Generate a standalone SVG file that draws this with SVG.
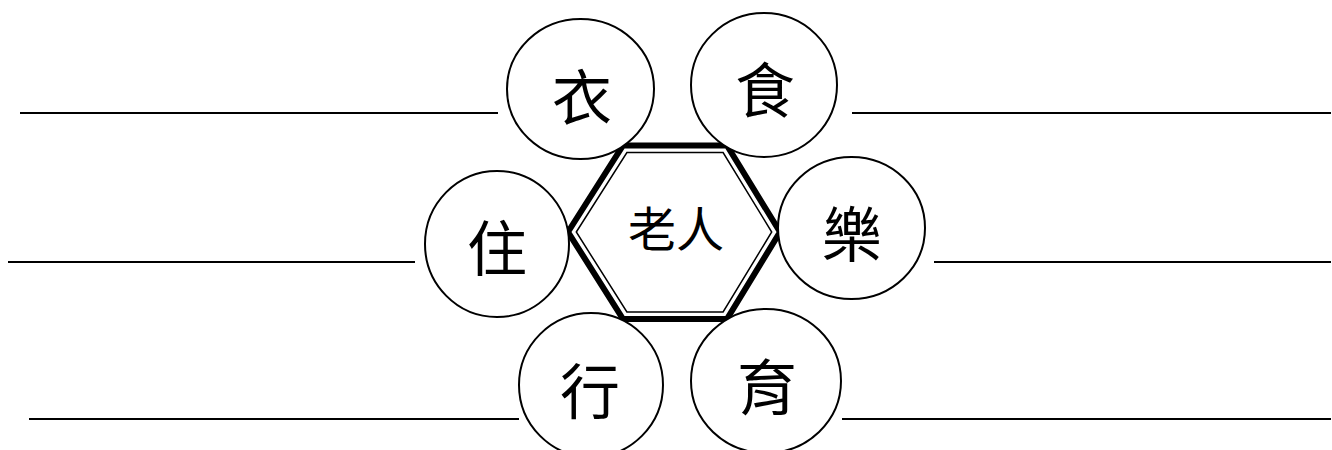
<svg xmlns="http://www.w3.org/2000/svg" width="1332" height="450" viewBox="0 0 1332 450">
<style>
.ln{stroke:#000;stroke-width:2;fill:none}
.c{fill:#fff;stroke:#000;stroke-width:2}
.t{font-family:"Noto Sans CJK TC","Noto Sans CJK SC",sans-serif;font-size:60px;text-anchor:middle;fill:#000}
.tc{font-family:"Noto Sans CJK TC","Noto Sans CJK SC",sans-serif;font-size:48px;text-anchor:middle;fill:#000}
</style>
<rect width="1332" height="450" fill="#fff"/>
<g id="connectors">
<line class="ln" x1="20" y1="113" x2="498" y2="113"/>
<line class="ln" x1="852" y1="113" x2="1331" y2="113"/>
<line class="ln" x1="8" y1="262" x2="415" y2="262"/>
<line class="ln" x1="934" y1="262" x2="1331" y2="262"/>
<line class="ln" x1="29" y1="419" x2="519" y2="419"/>
<line class="ln" x1="842" y1="419" x2="1331" y2="419"/>
</g>
<g id="center">
<polygon points="568,232 623,145.5 727,145.5 780,232 727,319 623,319" fill="#fff" stroke="#000" stroke-width="6" stroke-linejoin="miter"/>
<polygon points="576.3,232 626.9,152.5 723.1,152.5 771.7,232 723.1,312 626.9,312" fill="none" stroke="#000" stroke-width="1.5"/>
<text class="tc" x="676" y="247">老人</text>
</g>
<g id="n-yi"><ellipse class="c" cx="580.5" cy="89" rx="73.5" ry="70"/><text class="t" x="582" y="120">衣</text></g>
<g id="n-shi"><ellipse class="c" cx="764" cy="85" rx="73" ry="72"/><text class="t" x="765" y="113">食</text></g>
<g id="n-zhu"><ellipse class="c" cx="497" cy="244" rx="72" ry="73"/><text class="t" x="497" y="271">住</text></g>
<g id="n-le"><ellipse class="c" cx="851.5" cy="228" rx="73.5" ry="71"/><text class="t" x="852" y="257">樂</text></g>
<g id="n-xing"><ellipse class="c" cx="591" cy="385" rx="72" ry="72"/><text class="t" x="590" y="414">行</text></g>
<g id="n-yu"><ellipse class="c" cx="766" cy="381" rx="75" ry="72"/><text class="t" x="767" y="410">育</text></g>
</svg>
